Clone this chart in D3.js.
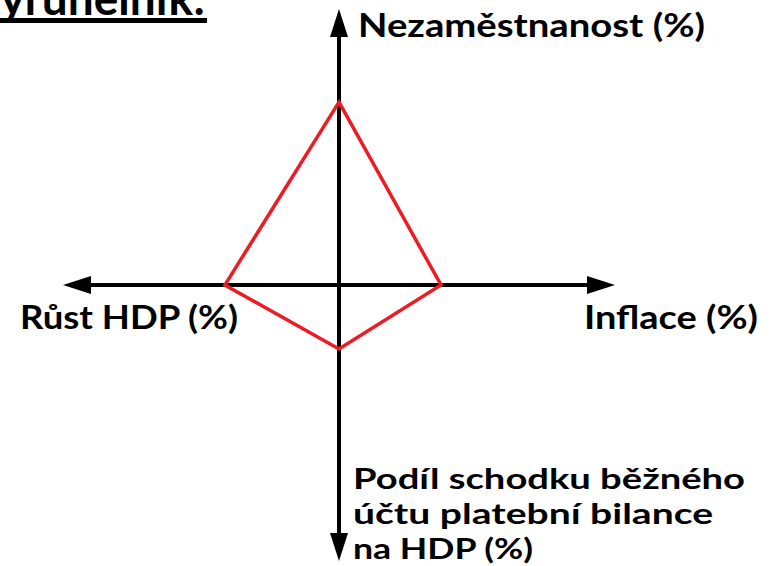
<!DOCTYPE html>
<html>
<head>
<meta charset="utf-8">
<script src="https://cdnjs.cloudflare.com/ajax/libs/d3/7.8.5/d3.min.js"></script>
<style>
  body { margin: 0; background: #fff; }
  text { font-family: Lato, "Open Sans", sans-serif; font-weight: 700; fill: #000; }
</style>
</head>
<body>
<div id="chart"></div>
<script>
// Data: one value per axis, clockwise from the top
var axisNames = ["Nezaměstnanost (%)", "Inflace (%)", "Podíl schodku běžného účtu platební bilance na HDP (%)", "Růst HDP (%)"];
var axisLines = [
  ["Nezaměstnanost (%)"],
  ["Inflace (%)"],
  ["Podíl schodku běžného", "účtu platební bilance", "na HDP (%)"],
  ["Růst HDP (%)"]
];
var axisValues = [6.65, 3.71, 2.33, 4.15];
var titleText = "Magický čtyřúhelník:";

var svgWidth = 775;
var svgHeight = 566;
var center = { x: 339, y: 285 };
var armLength = 275;
var arrowLen = 28;

// label layout: left x, first baseline, line widths
var labelLayout = [
  { x: 358, y: 37, size: 32, widths: [347] },
  { x: 584, y: 329, size: 32, widths: [174] },
  { x: 353, y: 489, size: 29, widths: [392, 360, 180], lineStep: 35 },
  { x: 20, y: 329, size: 32, widths: [218] }
];

var svg = d3.select("#chart")
  .append("svg")
  .attr("width", svgWidth)
  .attr("height", svgHeight);

var chartGroup = svg.append("g")
  .attr("transform", `translate(${center.x}, ${center.y})`);

// scales
var rScale = d3.scaleLinear().domain([0, 10]).range([0, armLength]);
var angleScale = d3.scaleLinear().domain([0, axisNames.length]).range([0, 2 * Math.PI]);

// arrow marker
svg.append("defs").append("marker")
  .attr("id", "arrow")
  .attr("viewBox", "0 -9 28 18")
  .attr("refX", 0)
  .attr("refY", 0)
  .attr("markerWidth", arrowLen)
  .attr("markerHeight", 18)
  .attr("markerUnits", "userSpaceOnUse")
  .attr("orient", "auto")
  .append("path")
  .attr("d", "M0,-9L28,0L0,9Z")
  .attr("fill", "#000");

// axes
chartGroup.selectAll(".axis")
  .data(axisNames)
  .enter()
  .append("line")
  .attr("class", "axis")
  .attr("x1", 0)
  .attr("y1", 0)
  .attr("x2", (d, i) => Math.sin(angleScale(i)) * (armLength - arrowLen + 1))
  .attr("y2", (d, i) => -Math.cos(angleScale(i)) * (armLength - arrowLen + 1))
  .attr("stroke", "#000")
  .attr("stroke-width", 4)
  .attr("marker-end", "url(#arrow)");

// red polygon
var radarLine = d3.lineRadial()
  .angle((d, i) => angleScale(i))
  .radius(d => rScale(d))
  .curve(d3.curveLinearClosed);

chartGroup.append("path")
  .datum(axisValues)
  .attr("d", radarLine)
  .attr("fill", "none")
  .attr("stroke", "#ed1c24")
  .attr("stroke-width", 3.5)
  .attr("stroke-linejoin", "miter");

// axis labels
axisLines.forEach(function(lines, i) {
  var lay = labelLayout[i];
  lines.forEach(function(line, j) {
    svg.append("text")
      .attr("x", lay.x)
      .attr("y", lay.y + j * (lay.lineStep || 0))
      .attr("font-size", lay.size)
      .attr("textLength", lay.widths[j])
      .attr("lengthAdjust", "spacingAndGlyphs")
      .text(line);
  });
});

// title (cut off at the top edge)
svg.append("text")
  .attr("x", 205)
  .attr("y", 15)
  .attr("text-anchor", "end")
  .attr("font-size", 46)
  .text(titleText);

svg.append("rect")
  .attr("x", 0)
  .attr("y", 18)
  .attr("width", 207)
  .attr("height", 5)
  .attr("fill", "#000");
</script>
</body>
</html>
